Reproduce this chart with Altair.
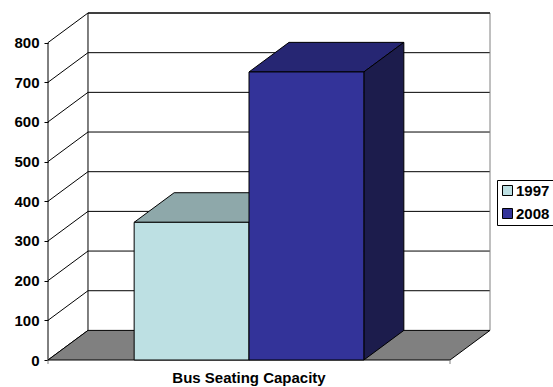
import altair as alt
import pandas as pd

# ---- data ----
category = "Bus Seating Capacity"
series = ["1997", "2008"]
values = [347, 726]
y_ticks = [0, 100, 200, 300, 400, 500, 600, 700, 800]

# ---- styling ----
front_colors = ["#BDE0E3", "#333399"]
top_colors = ["#8EA8AA", "#262673"]
side_colors = ["#7A9294", "#1C1C4C"]
FONT = "Liberation Sans"

W, H = 442, 347
YMAX = 800
DX = 0.0995      # depth offset in category units
DY = 74.6        # depth offset in value units
GAP = 1.5
n = len(series)
bw = 1.0 / (n + GAP)
start = GAP / 2 * bw

xs = alt.Scale(domain=[0, 1 + DX], nice=False, zero=False)
ys = alt.Scale(domain=[0, YMAX + DY], nice=False, zero=False)

bars = pd.DataFrame({
    "series": series,
    "value": values,
    "x0": [start + i * bw for i in range(n)],
    "x1": [start + (i + 1) * bw for i in range(n)],
    "top": top_colors,
    "side": side_colors,
})

tops = []
sides = []
for _, r in bars.iterrows():
    tops.append({"s": r.series, "y": r.value, "xa": r.x0, "xb": r.x1, "c": r.top})
    tops.append({"s": r.series, "y": r.value + DY, "xa": r.x0 + DX, "xb": r.x1 + DX, "c": r.top})
    sides.append({"s": r.series, "x": r.x1, "ya": 0, "yb": r.value, "c": r.side})
    sides.append({"s": r.series, "x": r.x1 + DX, "ya": DY, "yb": r.value + DY, "c": r.side})
tops = pd.DataFrame(tops)
sides = pd.DataFrame(sides)

grid = pd.DataFrame({"v": y_ticks})
grid["vb"] = grid["v"] + DY
grid["x0"] = 0.0
grid["xd"] = DX
grid["xe"] = 1 + DX

# back wall gridlines
back_grid = alt.Chart(grid[grid.v > 0]).mark_rule(color="black", strokeWidth=1).encode(
    x=alt.X("xd:Q", scale=xs, axis=None), x2="xe:Q",
    y=alt.Y("vb:Q", scale=ys, axis=None),
)
# side wall diagonals
diag = alt.Chart(grid).mark_rule(color="black", strokeWidth=1).encode(
    x=alt.X("x0:Q", scale=xs, axis=None), x2="xd:Q",
    y=alt.Y("v:Q", scale=ys, axis=None), y2="vb:Q",
)
# frame lines
frame = pd.DataFrame({
    "x": [0, DX, 1 + DX, DX],
    "x2": [0, DX, 1 + DX, 1 + DX],
    "y": [0, DY, DY, YMAX + DY],
    "y2": [YMAX, YMAX + DY, YMAX + DY, YMAX + DY],
    "c": ["black", "black", "#808080", "black"],
})
frame_layer = alt.Chart(frame).mark_rule(strokeWidth=1).encode(
    x=alt.X("x:Q", scale=xs, axis=None), x2="x2:Q",
    y=alt.Y("y:Q", scale=ys, axis=None), y2="y2:Q",
    stroke=alt.Stroke("c:N", scale=None),
)
# y axis (front)
yaxis = alt.Chart(grid).mark_point(opacity=0).encode(
    x=alt.X("x0:Q", scale=xs, axis=None),
    y=alt.Y("v:Q", scale=ys, axis=alt.Axis(
        values=y_ticks, title=None, domain=False, grid=False,
        tickSize=4, tickColor="black", labelPadding=5,
        labelFont=FONT, labelFontSize=15, labelFontWeight="bold", labelColor="black",
    )),
)
# floor
floor_df = pd.DataFrame({"y": [0, DY], "xa": [0, DX], "xb": [1, 1 + DX]})
floor = alt.Chart(floor_df).mark_area(
    color="#808080", stroke="black", strokeWidth=1, orient="horizontal"
).encode(
    y=alt.Y("y:Q", scale=ys, axis=None),
    x=alt.X("xa:Q", scale=xs, axis=None, stack=None), x2="xb:Q",
)
# bar tops
top_layer = alt.Chart(tops).mark_area(
    stroke="black", strokeWidth=1, orient="horizontal"
).encode(
    y=alt.Y("y:Q", scale=ys, axis=None),
    x=alt.X("xa:Q", scale=xs, axis=None, stack=None), x2="xb:Q",
    fill=alt.Fill("c:N", scale=None),
    detail="s:N",
)
side_layer = alt.Chart(sides).mark_area(
    stroke="black", strokeWidth=1, orient="vertical"
).encode(
    x=alt.X("x:Q", scale=xs, axis=None),
    y=alt.Y("ya:Q", scale=ys, axis=None, stack=None), y2="yb:Q",
    fill=alt.Fill("c:N", scale=None),
    detail="s:N",
)
front = alt.Chart(bars).mark_rect(stroke="black", strokeWidth=1).encode(
    x=alt.X("x0:Q", scale=xs, axis=None), x2="x1:Q",
    y=alt.Y("value:Q", scale=ys, axis=None), y2=alt.datum(0),
    color=alt.Color("series:N", scale=alt.Scale(domain=series, range=front_colors),
                    legend=alt.Legend(
                        title=None, orient="none", legendX=449, legendY=167,
                        strokeColor="black", fillColor="white", padding=3,
                        symbolType="square", symbolSize=100,
                        symbolStrokeColor="black", symbolStrokeWidth=1,
                        labelFont=FONT, labelFontSize=15, labelFontWeight="bold",
                        labelColor="black", rowPadding=7, labelOffset=1,
                    )),
)
# bottom ticks
bt = pd.DataFrame({"x": [0.0, 1.0]})
bticks = alt.Chart(bt).mark_rule(color="#808080").encode(
    x=alt.X("x:Q", scale=xs, axis=None),
    y=alt.value(H), y2=alt.value(H + 4),
)
# x title
xt = alt.Chart(pd.DataFrame({"cat": [category], "x": [0.5]})).mark_text(
    font=FONT, fontSize=15, fontWeight="bold", color="black", baseline="middle"
).encode(
    x=alt.X("x:Q", scale=xs, axis=None),
    y=alt.value(H + 18),
    text="cat:N",
)

chart = alt.layer(
    back_grid, diag, frame_layer, floor, yaxis, top_layer, side_layer, front, bticks, xt
).resolve_axis(y="independent", x="independent").properties(
    width=W, height=H,
    padding={"left": 48, "top": 13, "right": 63, "bottom": 27},
    autosize=alt.AutoSizeParams(type="none"),
    background="white",
).configure_view(stroke=None)

chart.save("out.html", embed_options={"renderer": "svg", "actions": False})
